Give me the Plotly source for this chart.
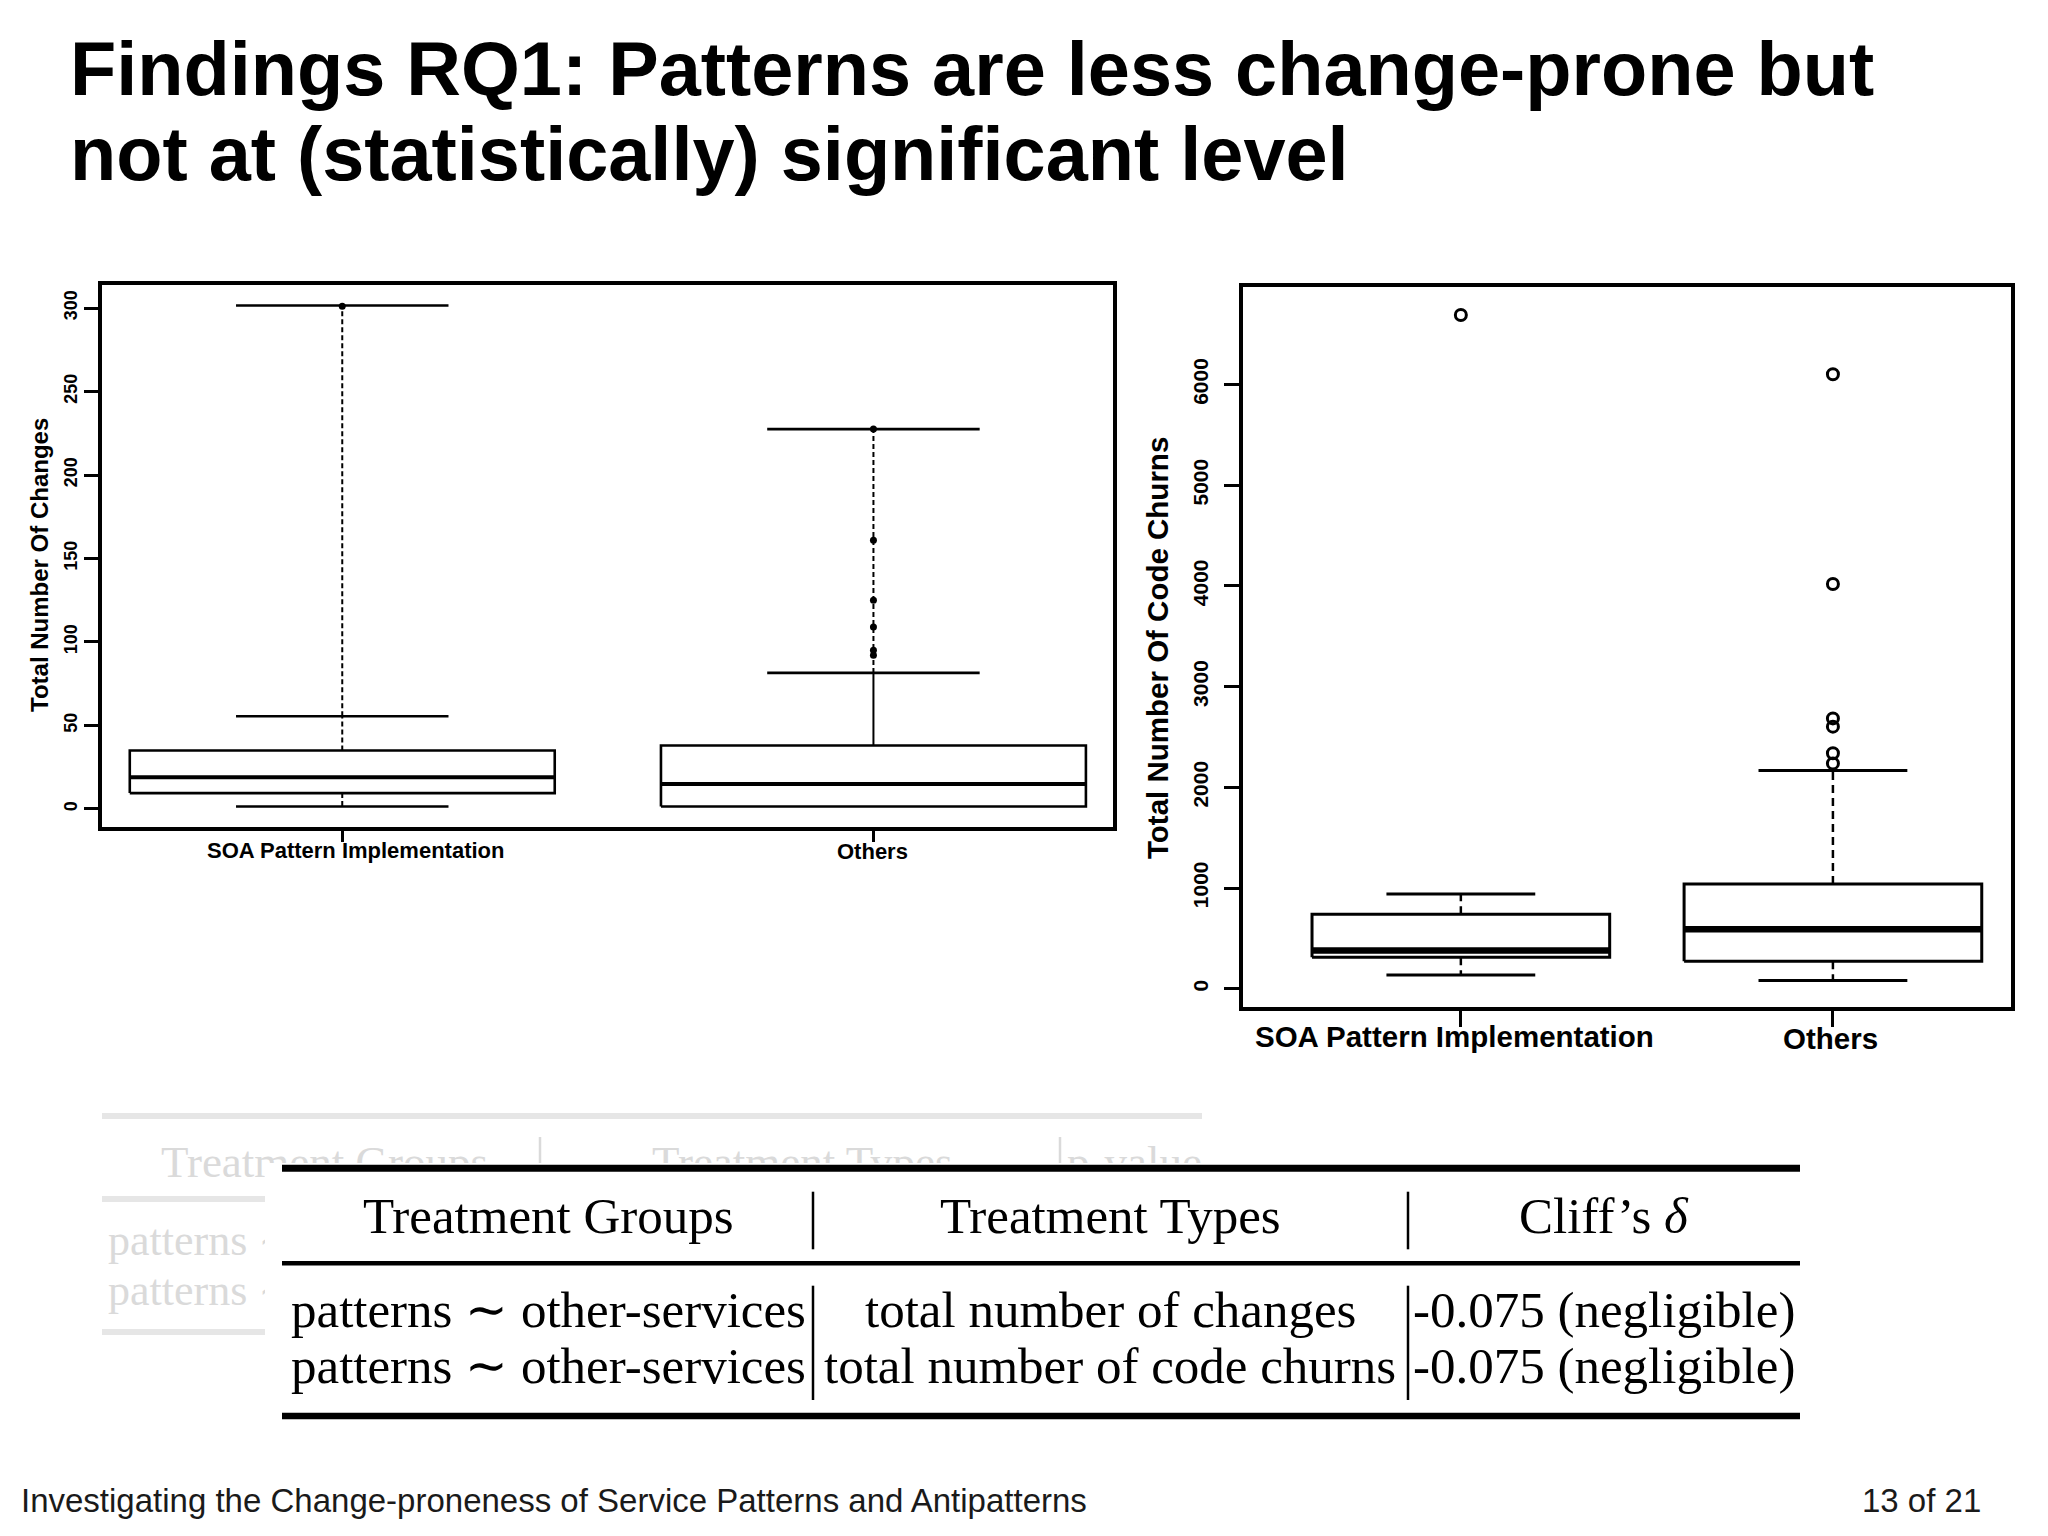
import plotly.graph_objects as go

W, H = 2048, 1536

# ---------------- data ----------------
groups = ["SOA Pattern Implementation", "Others"]

# left panel: total number of changes
chg_q1 = [9.5, 1.5]
chg_median = [19, 15]
chg_q3 = [35, 38]
chg_lower = [1.5, 1.5]
chg_upper = [55.5, 81.5]
chg_upper_far = [301.5, 227.5]
chg_inner_style = ["dash", "solid"]
chg_points = [[301], [227.5, 161, 125, 109, 95, 92]]
chg_ticks = [0, 50, 100, 150, 200, 250, 300]

# right panel: total number of code churns
churn_q1 = [312, 272]
churn_median = [378, 590]
churn_q3 = [739, 1040]
churn_lower = [136, 80]
churn_upper = [941, 2166]
churn_outliers = [[6692], [6103, 4020, 2685, 2603, 2338, 2238]]
churn_ticks = [0, 1000, 2000, 3000, 4000, 5000, 6000]

title_lines = ["Findings RQ1: Patterns are less change-prone but",
               "not at (statistically) significant level"]
table_header = ["Treatment Groups", "Treatment Types", "Cliff’s <i>δ</i>"]
table_rows = [["patterns ∼ other-services", "total number of changes", "-0.075 (negligible)"],
              ["patterns ∼ other-services", "total number of code churns", "-0.075 (negligible)"]]
ghost_header = ["Treatment Groups", "Treatment Types", "p-value"]
ghost_rows = ["patterns ∼", "patterns ∼"]
footer_left = "Investigating the Change-proneness of Service Patterns and Antipatterns"
footer_right = "13 of 21"


def X(px):
    return px / W


def Y(py):
    return 1 - py / H


SANS = "Liberation Sans"
SERIF = "Liberation Serif"

fig = go.Figure()


def add_boxes(xa, ya, q1, med, q3, lo, hi, lw_box, lw_med, lw_wh, dash, half=0.4, cap=0.2):
    for i in range(len(q1)):
        xc = i + 1
        fig.add_trace(go.Scatter(x=[xc - half, xc + half, xc + half, xc - half, xc - half],
                                 y=[q1[i], q1[i], q3[i], q3[i], q1[i]], mode="lines",
                                 line=dict(color="black", width=lw_box), xaxis=xa, yaxis=ya,
                                 hoverinfo="skip", showlegend=False))
        fig.add_trace(go.Scatter(x=[xc - half, xc + half], y=[med[i], med[i]], mode="lines",
                                 line=dict(color="black", width=lw_med), xaxis=xa, yaxis=ya,
                                 hoverinfo="skip", showlegend=False))
        if lo[i] < q1[i]:
            fig.add_trace(go.Scatter(x=[xc, xc], y=[q1[i], lo[i]], mode="lines",
                                     line=dict(color="black", width=lw_wh, dash=dash),
                                     xaxis=xa, yaxis=ya, hoverinfo="skip", showlegend=False))
            fig.add_trace(go.Scatter(x=[xc - cap, xc + cap], y=[lo[i], lo[i]], mode="lines",
                                     line=dict(color="black", width=lw_box), xaxis=xa, yaxis=ya,
                                     hoverinfo="skip", showlegend=False))
        fig.add_trace(go.Scatter(x=[xc - cap, xc + cap], y=[hi[i], hi[i]], mode="lines",
                                 line=dict(color="black", width=lw_box), xaxis=xa, yaxis=ya,
                                 hoverinfo="skip", showlegend=False))


# ---- left panel ----
add_boxes("x", "y", chg_q1, chg_median, chg_q3, chg_lower, chg_upper, 2.6, 4, 2, "5px,3px")
for i in range(len(groups)):
    xc = i + 1
    fig.add_trace(go.Scatter(x=[xc, xc], y=[chg_q3[i], chg_upper[i]], mode="lines",
                             line=dict(color="black", width=2,
                                       dash="5px,3px" if chg_inner_style[i] == "dash" else "solid"),
                             hoverinfo="skip", showlegend=False))
    fig.add_trace(go.Scatter(x=[xc, xc], y=[chg_upper[i], chg_upper_far[i]], mode="lines",
                             line=dict(color="black", width=2, dash="5px,3px"),
                             hoverinfo="skip", showlegend=False))
    fig.add_trace(go.Scatter(x=[xc - 0.2, xc + 0.2], y=[chg_upper_far[i]] * 2, mode="lines",
                             line=dict(color="black", width=2.6), hoverinfo="skip", showlegend=False))
    fig.add_trace(go.Scatter(x=[xc] * len(chg_points[i]), y=chg_points[i], mode="markers",
                             marker=dict(color="black", size=7, symbol="circle"),
                             hoverinfo="skip", showlegend=False))

# ---- right panel ----
add_boxes("x2", "y2", churn_q1, churn_median, churn_q3, churn_lower, churn_upper, 3, 6.5, 2.5, "8px,5px")
for i in range(len(groups)):
    xc = i + 1
    fig.add_trace(go.Scatter(x=[xc, xc], y=[churn_q3[i], churn_upper[i]], mode="lines",
                             line=dict(color="black", width=2.5, dash="8px,5px"),
                             xaxis="x2", yaxis="y2", hoverinfo="skip", showlegend=False))
    fig.add_trace(go.Scatter(x=[xc] * len(churn_outliers[i]), y=churn_outliers[i], mode="markers",
                             marker=dict(color="black", size=11, symbol="circle-open",
                                         line=dict(color="black", width=3)),
                             xaxis="x2", yaxis="y2", hoverinfo="skip", showlegend=False))

# ---- ghost table text (faint, partially covered) ----
ghost_color = "#dadada"
fig.add_trace(go.Scatter(x=[161, 652, 1067], y=[1166, 1166, 1166], text=ghost_header,
                         mode="text", textposition="middle right",
                         textfont=dict(family=SERIF, size=45, color=ghost_color),
                         xaxis="x3", yaxis="y3", hoverinfo="skip", showlegend=False, cliponaxis=False))
fig.add_trace(go.Scatter(x=[108, 108], y=[1244, 1294], text=ghost_rows,
                         mode="text", textposition="middle right",
                         textfont=dict(family=SERIF, size=44, color=ghost_color),
                         xaxis="x3", yaxis="y3", hoverinfo="skip", showlegend=False, cliponaxis=False))
fig.add_trace(go.Scatter(x=[540, 540, None, 1060, 1060], y=[1137, 1180, None, 1137, 1180],
                         mode="lines", line=dict(color=ghost_color, width=2.5),
                         xaxis="x3", yaxis="y3", hoverinfo="skip", showlegend=False))

axis_common = dict(showline=True, mirror=True, linecolor="black", showgrid=False,
                   zeroline=False, ticks="outside", tickcolor="black")

fig.update_layout(
    width=W, height=H, autosize=False,
    margin=dict(l=0, r=0, t=0, b=0),
    paper_bgcolor="white", plot_bgcolor="rgba(0,0,0,0)",
    showlegend=False,
    xaxis=dict(domain=[X(102), X(1113)], range=[0.5477, 2.451], tickvals=[1, 2], showticklabels=False,
               ticklen=11, tickwidth=2.5, linewidth=4, anchor="y", **axis_common),
    yaxis=dict(domain=[Y(827), Y(285)], range=[-10.8, 313.8], tickvals=chg_ticks, tickangle=-90,
               ticklen=14, tickwidth=2.5, linewidth=4,
               tickfont=dict(family=SANS, size=18, color="black", weight="bold"), anchor="x",
               **axis_common),
    xaxis2=dict(domain=[X(1243), X(2011)], range=[0.4145, 2.4786], tickvals=[1, 2], showticklabels=False,
                ticklen=16, tickwidth=2.5, linewidth=3.5, anchor="y2", **axis_common),
    yaxis2=dict(domain=[Y(1007), Y(287)], range=[-182, 6970], tickvals=churn_ticks, tickangle=-90,
                ticklen=15, tickwidth=2.5, linewidth=3.5, ticklabelstandoff=8,
                tickfont=dict(family=SANS, size=21, color="black", weight="bold"), anchor="x2",
                **axis_common),
    xaxis3=dict(domain=[0, 1], range=[0, W], visible=False, anchor="y3"),
    yaxis3=dict(domain=[0, 1], range=[H, 0], visible=False, anchor="x3"),
)

ann = []
# title
ann.append(dict(text="<b>%s</b>" % title_lines[0], x=X(68), y=Y(68), xanchor="left", yanchor="middle",
                font=dict(family=SANS, size=75.7, color="black")))
ann.append(dict(text="<b>%s</b>" % title_lines[1], x=X(68), y=Y(154), xanchor="left", yanchor="middle",
                font=dict(family=SANS, size=75.7, color="black")))
# category labels
ann.append(dict(text="<b>%s</b>" % groups[0], x=X(355), y=Y(850), xanchor="center", yanchor="middle",
                font=dict(family=SANS, size=22, color="black")))
ann.append(dict(text="<b>%s</b>" % groups[1], x=X(872), y=Y(851), xanchor="center", yanchor="middle",
                font=dict(family=SANS, size=22, color="black")))
ann.append(dict(text="<b>%s</b>" % groups[0], x=X(1454), y=Y(1036), xanchor="center", yanchor="middle",
                font=dict(family=SANS, size=29.5, color="black")))
ann.append(dict(text="<b>%s</b>" % groups[1], x=X(1830), y=Y(1038), xanchor="center", yanchor="middle",
                font=dict(family=SANS, size=29.5, color="black")))
# axis titles
ann.append(dict(text="<b>Total Number Of Changes</b>", x=X(39), y=Y(565), textangle=-90,
                xanchor="center", yanchor="middle", font=dict(family=SANS, size=24, color="black")))
ann.append(dict(text="<b>Total Number Of Code Churns</b>", x=X(1157), y=Y(648), textangle=-90,
                xanchor="center", yanchor="middle", font=dict(family=SANS, size=29.5, color="black")))
# table
col_centers = [548, 1110, 1604]
for j, t in enumerate(table_header):
    ann.append(dict(text=t, x=X(col_centers[j]), y=Y(1215.5), xanchor="center", yanchor="middle",
                    font=dict(family=SERIF, size=51, color="black")))
row_mids = [1309.5, 1366]
for r, row in enumerate(table_rows):
    for j, t in enumerate(row):
        ann.append(dict(text=t, x=X(col_centers[j]), y=Y(row_mids[r]), xanchor="center", yanchor="middle",
                        font=dict(family=SERIF, size=51, color="black")))
# footer
ann.append(dict(text=footer_left, x=X(19), y=Y(1500.6), xanchor="left", yanchor="middle",
                font=dict(family=SANS, size=33, color="#1a1a1a")))
ann.append(dict(text=footer_right, x=X(1983), y=Y(1500.6), xanchor="right", yanchor="middle",
                font=dict(family=SANS, size=33, color="#1a1a1a")))
for a in ann:
    a.update(xref="paper", yref="paper", showarrow=False)
fig.update_layout(annotations=ann)

shapes = []
ghost_rule = "#e6e6e6"
shapes.append(dict(type="line", x0=X(102), x1=X(1202), y0=Y(1116), y1=Y(1116), line=dict(color=ghost_rule, width=6)))
shapes.append(dict(type="line", x0=X(102), x1=X(300), y0=Y(1199), y1=Y(1199), line=dict(color=ghost_rule, width=6)))
shapes.append(dict(type="line", x0=X(102), x1=X(300), y0=Y(1332), y1=Y(1332), line=dict(color=ghost_rule, width=6)))
# white cover of main table
shapes.append(dict(type="rect", x0=X(265), x1=X(1810), y0=Y(1163), y1=Y(1432), fillcolor="white",
                   line=dict(width=0)))
# main table rules
shapes.append(dict(type="line", x0=X(282), x1=X(1800), y0=Y(1168.3), y1=Y(1168.3), line=dict(color="black", width=7)))
shapes.append(dict(type="line", x0=X(282), x1=X(1800), y0=Y(1263.3), y1=Y(1263.3), line=dict(color="black", width=4.5)))
shapes.append(dict(type="line", x0=X(282), x1=X(1800), y0=Y(1416), y1=Y(1416), line=dict(color="black", width=6.5)))
for vx in [813, 1408]:
    shapes.append(dict(type="line", x0=X(vx), x1=X(vx), y0=Y(1191.7), y1=Y(1249.3), line=dict(color="black", width=2.5)))
    shapes.append(dict(type="line", x0=X(vx), x1=X(vx), y0=Y(1285.7), y1=Y(1400), line=dict(color="black", width=2.5)))
for s in shapes:
    s.update(xref="paper", yref="paper", layer="above")
fig.update_layout(shapes=shapes)

fig.write_html("out.html", config={"displayModeBar": False},
               post_script="document.body.style.margin='0';")
